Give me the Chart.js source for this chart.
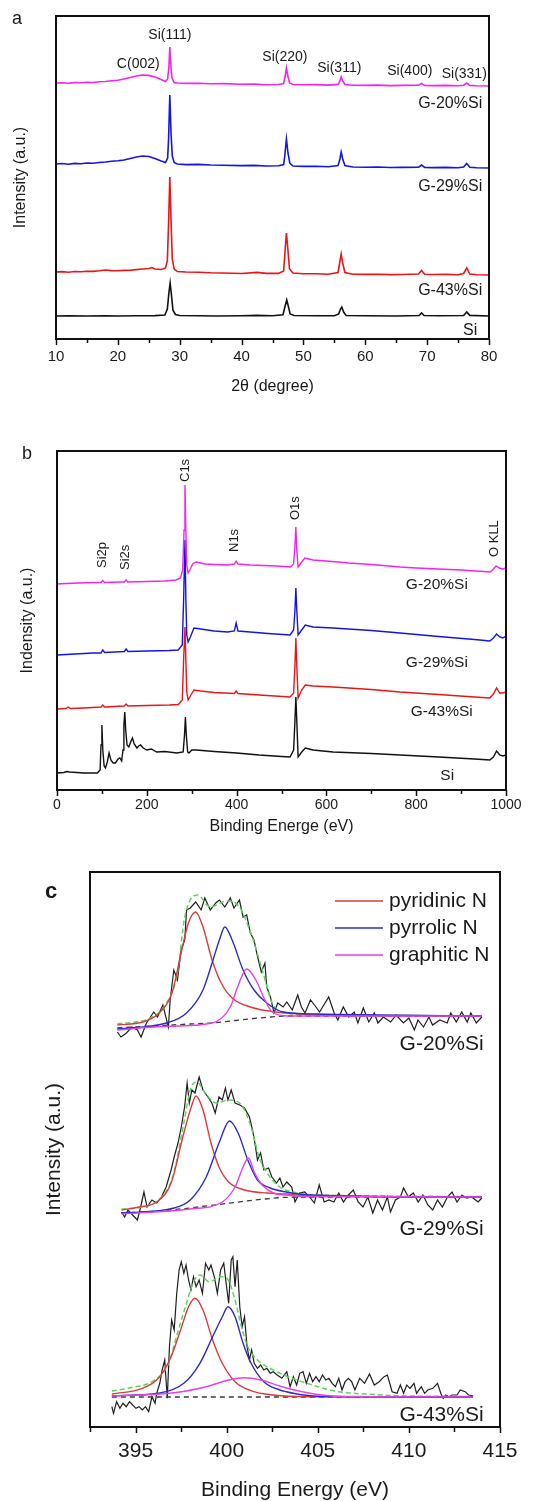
<!DOCTYPE html>
<html>
<head>
<meta charset="utf-8">
<script src="https://cdn.jsdelivr.net/npm/chart.js@4.4.0/dist/chart.umd.min.js"></script>
<style>
  html, body { margin: 0; padding: 0; background: #fff; }
  body { width: 535px; height: 1501px; position: relative; overflow: hidden; }
  canvas { position: absolute; left: 0; }
  #xrd { top: 0; }
  #xps { top: 400px; }
  #nls { top: 840px; }
</style>
</head>
<body>
<canvas id="xrd" width="535" height="400"></canvas>
<canvas id="xps" width="535" height="440"></canvas>
<canvas id="nls" width="535" height="663"></canvas>
<script>
/* ======================================================
   DADOS (a) XRD  -  [2theta, intensidade]
====================================================== */
const xrdG20 = [[10,256],[11,256.3],[12,255.8],[13,256.4],[14,256.2],[15,256.8],[16,256.5],[17,257.2],[18,257.5],[19,258.3],[20,258.8],[21,260],[22,261.5],[23,263],[24,264],[25,263.6],[26,262],[27,259.5],[27.7,257.5],[28.05,260],[28.25,272],[28.4,292],[28.55,274],[28.75,261],[29.1,256.5],[29.6,256],[31,255.6],[33,255.8],[35,255.2],[37,255.4],[40,254.8],[42,254.9],[44,254.3],[46,254.5],[46.8,255.5],[47.05,263],[47.25,271],[47.45,264],[47.75,256],[48.3,254.5],[50,254.2],[52,254.4],[54,253.9],[55.6,254.6],[55.9,258],[56.1,262],[56.35,258],[56.7,254.5],[58,253.8],[60,253.6],[62,253.9],[64,253.4],[66,253.6],[68.6,253.8],[69.1,255.6],[69.6,253.6],[71,253.4],[73,253.6],[75,253.2],[75.9,253.8],[76.4,256],[76.9,253.6],[78,253.2],[80,253]];
const xrdG29 = [[10,175],[11,175.5],[12,174.8],[13,175.6],[14,175.3],[15,176],[16,175.8],[17,176.5],[18,177],[19,177.8],[20,178.2],[21,179],[22,180.5],[23,182],[24,183],[25,182.5],[26,180.5],[27,178],[27.7,176.5],[28.05,181],[28.2,200],[28.4,244],[28.6,205],[28.8,183],[29.1,176.5],[29.6,175],[31,174.4],[33,174.6],[35,174],[37,173.8],[40,173.4],[42,173.6],[44,173],[46,173.2],[46.8,174.5],[47.0,184],[47.25,200],[47.5,186],[47.8,176],[48.3,173],[50,172.6],[52,172.8],[54,172.3],[55.6,173.5],[55.9,180],[56.1,187],[56.35,180],[56.7,173.5],[58,172],[60,171.8],[62,172],[64,171.5],[66,171.6],[68.6,171.8],[69.1,174],[69.6,171.6],[71,171.4],[73,171.6],[75,171.2],[75.9,172],[76.4,175.5],[76.9,171.8],[78,171.3],[80,171]];
const xrdG43 = [[10,67],[11,67.4],[12,66.8],[13,67.5],[14,67.2],[15,67.8],[16,67.6],[17,68.2],[18,69],[19,68.4],[20,68.2],[21,68.6],[22,68.8],[23,69.4],[24,70],[25,70.5],[25.5,71.5],[26,70],[27,69.5],[27.7,71],[28.0,78],[28.2,115],[28.4,162],[28.6,118],[28.8,80],[29.1,70],[29.6,67.5],[31,67],[33,66.7],[35,66.2],[37,66],[40,65.5],[42.5,66.6],[44,65.6],[46,65.6],[46.8,68],[47.05,90],[47.25,106],[47.45,92],[47.75,70],[48.3,66],[50,65.3],[52,65.2],[54,64.8],[55.6,66.5],[55.85,76],[56.1,85],[56.35,76],[56.7,66.5],[58,64.8],[60,64.6],[62,64.7],[64,64.4],[66,64.5],[68.6,65],[69.1,68.5],[69.6,64.8],[71,64.5],[73,64.6],[75,64.3],[75.9,65.5],[76.4,71],[76.9,65],[78,64.3],[80,64]];
const xrdSi = [[10,23],[12,23.2],[15,23],[18,23.3],[20,23],[23,23.2],[26,23.4],[27.6,24],[28.0,30],[28.25,46],[28.45,56],[28.65,45],[28.9,29],[29.3,24.5],[30,23.5],[33,23.2],[36,23],[40,23.2],[42.5,23.6],[45,23.2],[46.7,24.2],[47.0,32],[47.3,39],[47.55,33],[47.85,25],[48.5,23.5],[52,23.2],[55,23.3],[55.7,25],[56.0,30],[56.2,32],[56.5,27],[56.9,23.5],[60,23.2],[65,23],[68.7,23.5],[69.1,26],[69.5,23.5],[72,23.2],[75.9,23.5],[76.4,27],[76.9,23.6],[80,23]];

/* ======================================================
   DADOS (b) XPS survey  -  [energia, intensidade]
====================================================== */
const xpsG20 = [[0,206],[20,206.5],[50,207],[80,207.5],[98,207.5],[102,209.5],[106,207.5],[140,208],[150,208],[154,210],[158,208],[200,208.5],[240,209],[265,210],[275,212],[280,220],[283,260],[285,305],[287,260],[289,225],[292,217],[296,220],[302,226],[310,228],[330,226],[350,225.5],[380,225],[395,226],[399,229],[403,226],[430,225],[460,224.5],[490,224],[520,223],[527,226],[530,245],[532,263],[534,240],[537,223],[545,228],[552,232],[570,230],[600,229],[650,227],[700,225.5],[764,223],[800,222],[850,221],[900,220],[950,218.5],[965,218],[972,221],[978,224],[985,222],[992,221],[1000,222]];
const xpsG29 = [[0,135],[40,136],[80,137],[98,137],[102,140],[106,137.5],[150,138.5],[154,141],[158,138.5],[200,139],[250,139.5],[270,140],[279,145],[282,190],[285,250],[287,190],[289,155],[292,148],[297,153],[305,162],[320,161],[350,159],[380,158],[395,159],[399,167],[403,159],[430,158],[470,156.5],[519,155],[527,160],[530,180],[532,202],[534,180],[537,155],[545,160],[553,165],[570,163],[615,162],[700,159.5],[764,157],[850,153.5],[930,150.5],[964,149],[972,152],[979,156],[986,153],[993,152],[1000,154]];
const xpsG43 = [[0,81],[20,81.5],[25,83],[30,81.5],[60,82],[98,83],[102,85],[106,83],[150,84],[154,86],[158,84],[200,84.5],[250,85],[270,85.5],[279,90],[282,130],[285,163],[287,130],[289,98],[292,90],[297,94],[305,100],[320,99],[350,97.5],[395,96.5],[399,99],[403,96.5],[450,95],[519,93],[527,97],[530,125],[532,152],[534,125],[537,92],[545,100],[553,105],[570,104],[615,103],[700,100.5],[764,98],[850,95.5],[930,93],[964,92],[972,96],[979,102],[986,97],[993,97],[1000,98]];
const xpsSi = [[0,17],[15,17.5],[22,18.5],[28,18],[60,17],[90,17],[96,20],[98,45],[100,65],[102,40],[105,24],[108,22],[112,28],[116,37],[120,30],[125,27],[130,27],[136,31],[140,32],[144,29],[147,40],[149,65],[151,78],[153,60],[156,45],[160,43],[164,48],[168,52],[172,46],[178,42],[182,44],[186,45],[192,42],[200,40],[210,41],[222,38],[240,38.5],[267,37],[281,38],[284,55],[286,73],[288,55],[291,38],[294,37],[300,40],[310,40],[350,38.5],[400,37],[450,35],[500,33.5],[519,33],[527,40],[530,70],[532,93],[534,70],[537,33],[545,38],[553,42],[570,40],[615,38],[700,36.5],[764,35],[850,33],[930,31],[964,30],[972,33],[979,39],[986,35],[993,34],[1000,35]];

/* ======================================================
   DADOS (c) N1s  -  [energia, intensidade]
====================================================== */
// G-20%Si
const n20bruto = [[394.0,395],[394.2,390],[394.5,394],[394.8,400],[395.1,397],[395.3,390],[395.6,404],[396.0,415],[396.2,410],[396.5,422],[396.8,400],[396.9,427],[397.1,457],[397.3,447],[397.5,477],[397.7,487],[397.8,517],[398.0,519],[398.3,525],[398.6,517],[398.8,529],[399.1,517],[399.4,524],[399.6,527],[399.9,520],[400.2,529],[400.4,519],[400.7,527],[400.9,510],[401.1,512],[401.3,494],[401.5,487],[401.7,470],[401.9,455],[402.1,464],[402.2,440],[402.4,430],[402.6,414],[402.8,424],[403.1,420],[403.3,425],[403.6,417],[403.9,432],[404.1,420],[404.3,414],[404.6,427],[404.9,420],[405.1,415],[405.6,430],[405.9,414],[406.1,407],[406.4,420],[406.7,410],[407.0,415],[407.2,404],[407.5,419],[407.8,405],[408.1,414],[408.3,404],[408.6,410],[409.0,405],[409.3,412],[409.7,404],[410.0,409],[410.3,397],[410.5,407],[410.8,400],[411.1,410],[411.3,402],[411.7,407],[412.1,404],[412.3,414],[412.6,405],[412.9,415],[413.2,405],[413.4,414],[413.7,404],[414.0,410]];
const n20piridinico = [[394.0,402],[395.4,405],[396.3,414],[397.0,434],[397.5,474],[397.9,504],[398.3,515],[398.7,500],[399.2,467],[399.7,444],[400.3,429],[401.3,420],[402.7,415],[405.8,412],[414,411]];
const n20pirrolico = [[394.0,398],[396.7,404],[397.8,414],[398.7,437],[399.2,464],[399.6,487],[399.9,500],[400.3,487],[400.9,457],[401.5,437],[402.2,424],[403.1,415],[404.9,413],[414,411]];
const n20grafitico = [[394.0,397],[396.5,400.5],[399.2,404],[400.2,420],[400.6,440],[401.1,458],[401.6,447],[402.1,427],[402.5,415],[403.4,411],[414,411]];
const n20soma = [[394.0,403],[395.8,409],[396.7,424],[397.3,454],[397.7,510],[398.4,532],[399.1,520],[400.0,526],[400.7,520],[401.4,490],[402.0,454],[402.5,424],[403.3,414],[405,412],[414,411]];
const n20fundo = [[394.0,399],[396,401],[398,403],[399.2,404],[400.5,406.5],[401.5,408.5],[402.5,410.2],[403.1,411],[414,411]];

// G-29%Si
const n29bruto = [[394.23,215],[394.40,210],[394.58,217],[394.84,212],[395.1,207],[395.28,220],[395.46,235],[395.63,220],[395.9,227],[396.16,224],[396.42,230],[396.68,240],[396.95,257],[397.12,270],[397.33,284],[397.51,300],[397.69,320],[397.83,344],[397.95,324],[398.09,337],[398.26,334],[398.49,350],[398.7,337],[398.97,330],[399.19,324],[399.37,314],[399.58,330],[399.76,327],[399.93,339],[400.07,327],[400.25,337],[400.46,324],[400.72,322],[400.98,319],[401.25,310],[401.42,297],[401.55,284],[401.69,267],[401.86,274],[402.04,257],[402.3,259],[402.48,250],[402.74,244],[402.92,249],[403.09,240],[403.3,245],[403.57,240],[403.75,225],[404.0,234],[404.28,235],[404.55,230],[404.81,224],[405.08,242],[405.35,225],[405.61,227],[405.88,225],[406.15,234],[406.41,225],[406.68,232],[406.95,237],[407.22,225],[407.48,220],[407.75,230],[408.02,214],[408.28,227],[408.55,217],[408.82,230],[408.99,215],[409.26,227],[409.53,230],[409.71,239],[409.97,230],[410.24,234],[410.51,225],[410.77,232],[411.04,222],[411.31,217],[411.57,227],[411.84,220],[412.11,230],[412.37,235],[412.64,225],[412.91,232],[413.18,229],[413.44,230],[413.8,225],[414.0,229]];
const n29piridinico = [[394.23,217],[395.2,220],[396.16,225],[396.95,244],[397.65,294],[398.09,322],[398.32,331],[398.7,317],[399.14,284],[399.58,260],[400.11,245],[400.98,237],[402.21,234],[403.27,233],[404.5,231],[414,230]];
const n29pirrolico = [[394.23,214],[397.12,219],[398.0,227],[398.88,250],[399.58,284],[400.16,306],[400.63,294],[401.16,267],[401.69,247],[402.39,239],[403.27,235],[404.5,232],[414,230]];
const n29grafitico = [[394.23,213],[398.0,218],[399.76,225],[400.46,240],[400.9,260],[401.2,269],[401.51,255],[401.95,242],[402.56,234],[403.27,232],[404.5,230.5],[414,230]];
const n29soma = [[394.23,218],[395.37,220],[396.42,230],[397.04,250],[397.65,304],[398.0,337],[398.35,345],[398.79,335],[399.41,324],[400.11,327],[400.81,322],[401.34,300],[401.78,270],[402.3,252],[402.92,240],[403.62,235],[405,232],[414,230.5]];
const n29fundo = [[394.23,214],[396,215.5],[398,219],[400,223.5],[401.5,227],[403,229.5],[404,230],[414,230]];

// G-43%Si
const n43bruto = [[393.7,20.3],[393.79,13.7],[393.96,25.3],[394.14,18.7],[394.31,23.7],[394.49,20.3],[394.67,25.3],[394.84,22],[395.02,18.7],[395.19,20.3],[395.37,17],[395.54,20.3],[395.72,15.3],[395.9,30.3],[396.07,23.7],[396.16,33.7],[396.33,43.7],[396.46,57],[396.6,67],[396.74,28.7],[396.86,80.3],[396.98,107],[397.12,97],[397.26,133.7],[397.39,157],[397.51,165.3],[397.65,153.7],[397.77,162],[397.91,147],[398.04,137],[398.18,150.3],[398.32,140.3],[398.49,147],[398.67,133.7],[398.84,163.7],[399.02,157],[399.14,162],[399.32,150.3],[399.49,133.7],[399.67,157],[399.84,163.7],[399.97,143.7],[400.11,123.7],[400.25,167],[400.34,170.3],[400.46,140.3],[400.58,167],[400.72,120.3],[400.85,100.3],[400.98,110.3],[401.12,80.3],[401.25,67],[401.37,77],[401.51,63.7],[401.69,58.7],[401.86,62],[402.04,57],[402.21,58.7],[402.39,53.7],[402.56,55.3],[402.77,52],[403.03,48.7],[403.3,55.3],[403.48,40.3],[403.66,50.3],[403.84,42],[404.01,53.7],[404.19,55.3],[404.37,43.7],[404.55,53.7],[404.72,45.3],[404.9,50.3],[405.08,45.3],[405.26,52],[405.44,47],[405.61,48.7],[405.79,43.7],[405.97,40.3],[406.15,48.7],[406.33,37],[406.5,45.3],[406.68,48.7],[406.86,45.3],[407.04,37],[407.3,48.7],[407.57,43.7],[407.84,53],[408.1,42],[408.37,45.3],[408.64,50.3],[408.82,52],[409.08,35.3],[409.35,33.7],[409.53,42],[409.71,33.7],[409.88,42],[410.06,38.7],[410.28,43.7],[410.42,33.7],[410.68,40.3],[410.86,33.7],[411.04,37],[411.31,38.7],[411.57,43.7],[411.75,33.7],[411.88,28.7],[412.02,32],[412.2,30.3],[412.37,32],[412.64,32],[412.82,37],[413.09,35.3],[413.27,32],[413.53,31]];
const n43piridinico = [[393.7,33],[395.37,38.7],[396.25,48.7],[396.95,70.3],[397.47,97],[397.91,120.3],[398.26,128.7],[398.7,117],[399.23,87],[399.76,63.7],[400.46,45.3],[401.51,35.3],[402.56,32],[404.4,30.3],[413.5,30]];
const n43pirrolico = [[393.7,31.3],[396.25,33.7],[397.65,43.7],[398.53,63.7],[399.23,90.3],[399.76,110.3],[400.07,120.3],[400.46,110.3],[400.9,83.7],[401.34,63.7],[402.04,45.3],[402.92,37],[403.27,35.3],[404.2,32],[405.3,30.5],[413.5,30]];
const n43grafitico = [[393.7,31],[397.12,34.3],[398.88,40.3],[400.11,47],[400.98,49.3],[401.86,47],[402.92,41],[403.5,38],[404.5,34],[405.5,31.5],[406.5,30.3],[413.5,30]];
const n43soma = [[393.7,36],[394.84,39.7],[395.9,45.3],[396.77,62],[397.3,93.7],[397.74,120.3],[398.18,145.3],[398.53,152],[399.05,145.3],[399.67,150.3],[400.02,148.7],[400.46,127],[400.81,100.3],[401.16,80.3],[401.69,67],[402.56,57],[403.27,51],[404.4,43.7],[406.15,35.3],[407.9,32.7],[409.35,31.3],[413.5,30.5]];
const n43fundo = [[393.7,30],[413.5,30]];

/* ======================================================
   TEXTOS
====================================================== */
const picosXRD = [
  { text: "Si(111)", x: 28.4, y: 304 },
  { text: "C(002)", x: 23.3, y: 275 },
  { text: "Si(220)", x: 47.0, y: 282 },
  { text: "Si(311)", x: 55.8, y: 271 },
  { text: "Si(400)", x: 67.2, y: 268 },
  { text: "Si(331)", x: 76.0, y: 265 }
];
const amostrasXRD = [
  { text: "G-20%Si", x: 78.9, y: 235 },
  { text: "G-29%Si", x: 78.9, y: 152 },
  { text: "G-43%Si", x: 78.9, y: 48 },
  { text: "Si", x: 78.1, y: 8 }
];
const picosXPS = [
  { text: "Si2p", x: 102, y: 222 },
  { text: "Si2s", x: 153, y: 220 },
  { text: "C1s", x: 287, y: 308 },
  { text: "N1s", x: 396, y: 238 },
  { text: "O1s", x: 532, y: 270 },
  { text: "O KLL", x: 975, y: 233 }
];
const amostrasXPS = [
  { text: "G-20%Si", x: 846, y: 205 },
  { text: "G-29%Si", x: 846, y: 127 },
  { text: "G-43%Si", x: 857, y: 78 },
  { text: "Si", x: 869, y: 14 }
];
const amostrasN = [
  { text: "G-20%Si", x: 414.1, y: 383 },
  { text: "G-29%Si", x: 414.1, y: 198 },
  { text: "G-43%Si", x: 414.1, y: 12 }
];
const legendaN = ["pyridinic N", "pyrrolic N", "graphitic N"];

/* ======================================================
   CORES
====================================================== */
const CORES = {
  magenta: "#f522f0",
  azul: "#1414ea",
  vermelho: "#ec1414",
  preto: "#111111",
  fitVermelho: "#e0393a",
  fitAzul: "#2b2bcc",
  fitMagenta: "#e640e6",
  soma: "#5ad65a",
  fundo: "#3a3a3a",
  bruto: "#1f1f1f"
};

Chart.defaults.font.family = "'Liberation Sans', Arial, Helvetica, sans-serif";
Chart.defaults.color = "#1a1a1a";

/* ======================================================
   UTIL
====================================================== */
function serie(pts, cor, largura, extra) {
  return Object.assign({
    data: pts.map(p => ({ x: p[0], y: p[1] })),
    borderColor: cor,
    borderWidth: largura,
    pointRadius: 0,
    fill: false,
    tension: 0
  }, extra || {});
}

// moldura, ticks menores/maiores e textos sobre o grafico
function fazQuadro(cfg) {
  return {
    id: "quadro",
    afterDatasetsDraw(chart) {
      const { ctx, chartArea: a, scales: { x, y } } = chart;
      ctx.save();
      ctx.strokeStyle = "#111";
      ctx.lineWidth = cfg.moldura;
      ctx.strokeRect(a.left, a.top, a.right - a.left, a.bottom - a.top);

      ctx.lineWidth = cfg.tickLargura;
      for (let v = x.min; v <= x.max + 1e-9; v += cfg.passoMenor) {
        const maior = Math.abs(Math.round(v / cfg.passoMaior) * cfg.passoMaior - v) < 1e-6;
        const px = Math.round(x.getPixelForValue(v)) + 0.5;
        ctx.beginPath();
        ctx.moveTo(px, a.bottom);
        ctx.lineTo(px, a.bottom + (maior ? cfg.tickMaior : cfg.tickMenor));
        ctx.stroke();
      }

      ctx.fillStyle = "#1a1a1a";
      ctx.textBaseline = "middle";
      (cfg.textos || []).forEach(t => {
        ctx.font = t.fonte;
        const px = x.getPixelForValue(t.x);
        const py = y.getPixelForValue(t.y);
        if (t.girar) {
          ctx.save();
          ctx.translate(px, py);
          ctx.rotate(-Math.PI / 2);
          ctx.textAlign = "left";
          ctx.fillText(t.text, 0, 0);
          ctx.restore();
        } else {
          ctx.textAlign = t.alinhar || "center";
          ctx.fillText(t.text, px, py);
        }
      });

      if (cfg.letra) {
        ctx.font = cfg.letra.fonte;
        ctx.textAlign = "center";
        ctx.fillText(cfg.letra.text, cfg.letra.x, cfg.letra.y);
      }

      if (cfg.legenda) {
        const L = cfg.legenda;
        L.itens.forEach((item, i) => {
          const yy = L.y + i * L.passo;
          ctx.strokeStyle = item.cor;
          ctx.lineWidth = 1.5;
          ctx.beginPath();
          ctx.moveTo(L.x0, yy);
          ctx.lineTo(L.x1, yy);
          ctx.stroke();
          ctx.font = L.fonte;
          ctx.textAlign = "left";
          ctx.fillStyle = "#1a1a1a";
          ctx.fillText(item.text, L.xt, yy);
        });
      }
      ctx.restore();
    }
  };
}

function eixoX(min, max, passo, titulo, tam, tamTitulo, altura, pad, padTitulo) {
  return {
    type: "linear", min, max,
    afterFit: s => { s.height = altura; },
    grid: { display: false, drawTicks: false },
    border: { display: false },
    ticks: {
      stepSize: passo, padding: pad, includeBounds: false, maxRotation: 0, autoSkip: false,
      font: { size: tam }, color: "#1a1a1a",
      callback: v => String(Math.round(v * 10) / 10)
    },
    title: { display: true, text: titulo, font: { size: tamTitulo }, color: "#1a1a1a", padding: { top: 0, bottom: padTitulo } }
  };
}

function eixoY(min, max, titulo, tamTitulo, largura, padTitulo) {
  return {
    type: "linear", min, max,
    afterFit: s => { s.width = largura; },
    grid: { display: false, drawTicks: false },
    border: { display: false },
    ticks: { display: false },
    title: { display: true, text: titulo, font: { size: tamTitulo }, color: "#1a1a1a", padding: { top: padTitulo, bottom: 0 } }
  };
}

function opcoesBase(padding, escalas) {
  return {
    responsive: false,
    animation: false,
    devicePixelRatio: 1,
    events: [],
    layout: { padding },
    plugins: { legend: { display: false }, tooltip: { enabled: false } },
    scales: escalas
  };
}

/* ======================================================
   (a) XRD
====================================================== */
new Chart(document.getElementById("xrd"), {
  type: "line",
  data: {
    datasets: [
      serie(xrdG20, CORES.magenta, 1.6),
      serie(xrdG29, CORES.azul, 1.6),
      serie(xrdG43, CORES.vermelho, 1.6),
      serie(xrdSi, CORES.preto, 1.6)
    ]
  },
  options: opcoesBase({ left: 0, right: 46, top: 16, bottom: 0 }, {
    x: eixoX(10, 80, 10, "2\u03B8 (degree)", 15, 16, 61, 8.7, 3.7),
    y: eixoY(0, 323, "Intensity (a.u.)", 16, 56, 11.4)
  }),
  plugins: [fazQuadro({
    moldura: 2, tickLargura: 1.5, passoMaior: 10, passoMenor: 5, tickMaior: 6, tickMenor: 4,
    letra: { text: "a", x: 17, y: 19, fonte: "18px 'Liberation Sans', Arial, sans-serif" },
    textos: [
      ...picosXRD.map(p => ({ ...p, fonte: "14px 'Liberation Sans', Arial, sans-serif" })),
      ...amostrasXRD.map(p => ({ ...p, alinhar: "right", fonte: "16px 'Liberation Sans', Arial, sans-serif" }))
    ]
  })]
});

/* ======================================================
   (b) XPS survey
====================================================== */
new Chart(document.getElementById("xps"), {
  type: "line",
  data: {
    datasets: [
      serie(xpsG20, CORES.magenta, 1.4),
      serie(xpsG29, CORES.azul, 1.4),
      serie(xpsG43, CORES.vermelho, 1.4),
      serie(xpsSi, CORES.preto, 1.4)
    ]
  },
  options: opcoesBase({ left: 0, right: 29, top: 51, bottom: 0 }, {
    x: eixoX(0, 1000, 200, "Binding Energe (eV)", 14, 16, 50, 6.6, 3.4),
    y: eixoY(0, 339, "Indensity (a.u.)", 16, 57, 18.4)
  }),
  plugins: [fazQuadro({
    moldura: 2, tickLargura: 1.5, passoMaior: 200, passoMenor: 100, tickMaior: 6, tickMenor: 4,
    letra: { text: "b", x: 27, y: 54, fonte: "18px 'Liberation Sans', Arial, sans-serif" },
    textos: [
      ...picosXPS.map(p => ({ ...p, girar: true, fonte: "13px 'Liberation Sans', Arial, sans-serif" })),
      ...amostrasXPS.map(p => ({ ...p, fonte: "15.5px 'Liberation Sans', Arial, sans-serif" }))
    ]
  })]
});

/* ======================================================
   (c) N1s ajustado
====================================================== */
const suave = { cubicInterpolationMode: "monotone" };
const tracoSoma = { cubicInterpolationMode: "monotone", borderDash: [5, 3] };
const tracoFundo = { borderDash: [5, 4] };

function grupoN(bruto, pir, pirr, graf, soma, fundo) {
  return [
    serie(graf, CORES.fitMagenta, 1.4, suave),
    serie(pirr, CORES.fitAzul, 1.4, suave),
    serie(pir, CORES.fitVermelho, 1.4, suave),
    serie(soma, CORES.soma, 1.5, tracoSoma),
    serie(fundo, CORES.fundo, 1.3, tracoFundo),
    serie(bruto, CORES.bruto, 1.2)
  ];
}

new Chart(document.getElementById("nls"), {
  type: "line",
  data: {
    datasets: [
      ...grupoN(n20bruto, n20piridinico, n20pirrolico, n20grafitico, n20soma, n20fundo),
      ...grupoN(n29bruto, n29piridinico, n29pirrolico, n29grafitico, n29soma, n29fundo),
      ...grupoN(n43bruto, n43piridinico, n43pirrolico, n43grafitico, n43soma, n43fundo)
    ]
  },
  options: opcoesBase({ left: 0, right: 35, top: 32, bottom: 0 }, {
    x: eixoX(392.5, 415, 5, "Binding Energy (eV)", 21, 21, 76, 12.1, 0.4),
    y: eixoY(0, 555, "Intensity (a.u.)", 21, 90, 41.4)
  }),
  plugins: [fazQuadro({
    moldura: 2, tickLargura: 1.5, passoMaior: 5, passoMenor: 2.5, tickMaior: 6, tickMenor: 5,
    letra: { text: "c", x: 51, y: 52, fonte: "bold 22px 'Liberation Sans', Arial, sans-serif" },
    textos: amostrasN.map(p => ({ ...p, alinhar: "right", fonte: "21px 'Liberation Sans', Arial, sans-serif" })),
    legenda: {
      x0: 335, x1: 383, xt: 389, y: 61, passo: 27,
      fonte: "21px 'Liberation Sans', Arial, sans-serif",
      itens: [
        { text: legendaN[0], cor: CORES.fitVermelho },
        { text: legendaN[1], cor: CORES.fitAzul },
        { text: legendaN[2], cor: CORES.fitMagenta }
      ]
    }
  })]
});
</script>
</body>
</html>
